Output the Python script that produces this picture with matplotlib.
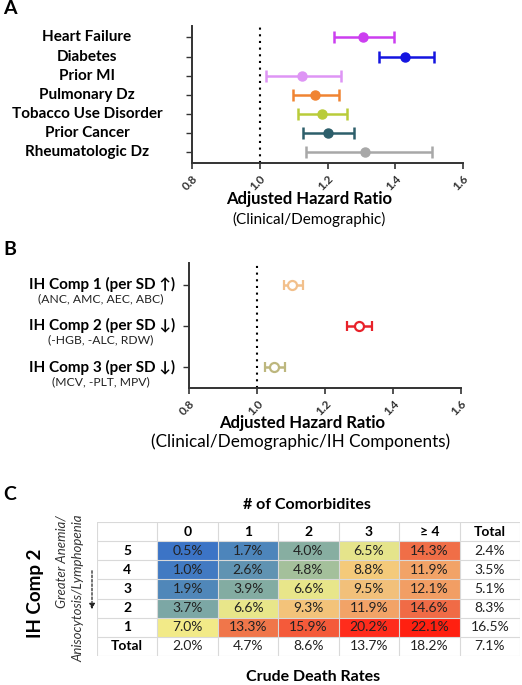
"""
Forest plots of adjusted hazard ratios (A, B) and crude death-rate table (C).
"""

import numpy as np
import matplotlib
matplotlib.use("Agg")
import matplotlib.pyplot as plt
from matplotlib.colors import LinearSegmentedColormap, Normalize
from matplotlib.transforms import blended_transform_factory

plt.rcParams["font.family"] = ["Lato", "DejaVu Sans"]

W, H = 522, 685

# ─── Data ─────────────────────────────────────────────────────────────────────

a_labels = ["Heart Failure", "Diabetes", "Prior MI", "Pulmonary Dz",
            "Tobacco Use Disorder", "Prior Cancer", "Rheumatologic Dz"]
a_hr     = [1.305, 1.430, 1.124, 1.164, 1.184, 1.200, 1.310]
a_lo     = [1.219, 1.352, 1.017, 1.098, 1.114, 1.127, 1.137]
a_hi     = [1.397, 1.514, 1.240, 1.234, 1.259, 1.278, 1.508]
a_colors = ["#CC3EF0", "#1414E0", "#DE95F5", "#F08432",
            "#B9CC3A", "#2D5F6B", "#A8A8A8"]

b_labels = ["IH Comp 1 (per SD \u2191)", "IH Comp 2 (per SD \u2193)",
            "IH Comp 3 (per SD \u2193)"]
b_sub    = ["(ANC, AMC, AEC, ABC)", "(-HGB, -ALC, RDW)", "(MCV, -PLT, MPV)"]
b_hr     = [1.104, 1.300, 1.049]
b_lo     = [1.078, 1.266, 1.024]
b_hi     = [1.136, 1.337, 1.082]
b_colors = ["#F2C08C", "#E8222A", "#BDB77E"]

x_ticks = [0.8, 1.0, 1.2, 1.4, 1.6]

c_cols   = ["0", "1", "2", "3", "\u2265 4"]
c_rows   = ["5", "4", "3", "2", "1"]
c_rates  = np.array([
    [0.5, 1.7, 4.0, 6.5, 14.3],
    [1.0, 2.6, 4.8, 8.8, 11.9],
    [1.9, 3.9, 6.6, 9.5, 12.1],
    [3.7, 6.6, 9.3, 11.9, 14.6],
    [7.0, 13.3, 15.9, 20.2, 22.1],
])
c_row_total = [2.4, 3.5, 5.1, 8.3, 16.5]
c_col_total = [2.0, 4.7, 8.6, 13.7, 18.2]
c_all_total = 7.1


def box(left, top, right, bottom):
    """Pixel box (from top-left) -> figure fraction rect."""
    return [left / W, 1 - bottom / H, (right - left) / W, (bottom - top) / H]


def fx(px):
    return px / W


def fy(py):
    return 1 - py / H


fig = plt.figure(figsize=(W / 100, H / 100), dpi=100)


def style_forest(ax):
    for s in ("top", "right"):
        ax.spines[s].set_visible(False)
    for s in ("left", "bottom"):
        ax.spines[s].set_color("#333333")
        ax.spines[s].set_linewidth(1.4)
    ax.set_xlim(0.8, 1.6)
    ax.set_xticks(x_ticks)
    ax.set_xticklabels([f"{t:.1f}" for t in x_ticks], rotation=45,
                       ha="right", va="top", rotation_mode="anchor",
                       fontsize=8.5, fontweight="bold", color="#333333")
    ax.tick_params(axis="x", length=4, width=1.2, color="#333333", pad=3)
    ax.tick_params(axis="y", length=4, width=1.0, color="#333333")
    ax.axvline(1.0, color="black", lw=1.5, ls=(0, (1, 2.2)), zorder=1)


# ─── Panel A ──────────────────────────────────────────────────────────────────

axA = fig.add_axes(box(192, 26, 463, 163))
style_forest(axA)
ya = np.arange(len(a_labels))
for i in range(len(a_labels)):
    axA.errorbar(a_hr[i], ya[i],
                 xerr=[[a_hr[i] - a_lo[i]], [a_hi[i] - a_hr[i]]],
                 fmt="o", color=a_colors[i], ms=6.5, elinewidth=1.8,
                 capsize=4, capthick=1.8, zorder=3)
axA.set_ylim(len(a_labels) - 0.45, -0.6)
axA.set_yticks(ya)
axA.set_yticklabels([])
tA = blended_transform_factory(fig.transFigure, axA.transData)
for i, lab in enumerate(a_labels):
    axA.text(fx(87), ya[i], lab, transform=tA, ha="center", va="center",
             fontsize=11, fontweight="bold", color="black")

fig.text(fx(309), fy(199), "Adjusted Hazard Ratio", ha="center", va="center",
         fontsize=12, fontweight="bold")
fig.text(fx(309), fy(219), "(Clinical/Demographic)", ha="center", va="center",
         fontsize=11)

# ─── Panel B ──────────────────────────────────────────────────────────────────

axB = fig.add_axes(box(189, 263, 461, 388))
style_forest(axB)
yb = np.arange(len(b_labels))
for i in range(len(b_labels)):
    axB.errorbar(b_hr[i], yb[i],
                 xerr=[[b_hr[i] - b_lo[i]], [b_hi[i] - b_hr[i]]],
                 fmt="o", color=b_colors[i], mfc="white", mec=b_colors[i],
                 mew=1.6, ms=6.5, elinewidth=1.8, capsize=3.5,
                 capthick=1.8, zorder=3)
axB.set_ylim(len(b_labels) - 0.5, -0.52)
axB.set_yticks(yb)
axB.set_yticklabels([])
tB = blended_transform_factory(fig.transFigure, axB.transData)
for i in range(len(b_labels)):
    axB.text(fx(102), yb[i], b_labels[i], transform=tB, ha="center",
             va="center", fontsize=11, fontweight="bold")
    axB.text(fx(101), yb[i] + 0.34, b_sub[i], transform=tB, ha="center",
             va="center", fontsize=8.7, color="#222222")

fig.text(fx(302), fy(423), "Adjusted Hazard Ratio", ha="center", va="center",
         fontsize=12, fontweight="bold")
fig.text(fx(301), fy(442), "(Clinical/Demographic/IH Components)",
         ha="center", va="center", fontsize=12.3)

# ─── Panel C ──────────────────────────────────────────────────────────────────

axC = fig.add_axes(box(97, 522, 520, 656))
n_r, n_c = c_rates.shape
axC.set_xlim(0, n_c + 2)
axC.set_ylim(n_r + 2, 0)
axC.axis("off")

vmin, vmax = c_rates.min(), c_rates.max()
anchors = [(0.5, "#3C74C6"), (2.0, "#5289B8"), (3.8, "#80AAA3"),
           (4.8, "#A6C29A"), (6.6, "#E8E68A"), (7.0, "#F2EA88"),
           (8.8, "#F4CA7A"), (9.5, "#F2C07A"), (12.0, "#F2A266"),
           (13.3, "#F0764A"), (14.6, "#F06C46"), (15.9, "#F45A3A"),
           (20.2, "#FF2C1C"), (22.1, "#FF2010")]
cmap = LinearSegmentedColormap.from_list(
    "rates", [((v - vmin) / (vmax - vmin), c) for v, c in anchors])
axC.pcolormesh(np.arange(1, n_c + 2), np.arange(1, n_r + 2), c_rates,
               cmap=cmap, norm=Normalize(vmin, vmax), shading="flat")

grid_c = "#D9D9D9"
for x in range(n_c + 3):
    axC.plot([x, x], [0, n_r + 2], color=grid_c, lw=0.8, zorder=2)
for y in range(n_r + 3):
    axC.plot([0, n_c + 2], [y, y], color=grid_c, lw=0.8, zorder=2)

fs = 10
for j, lab in enumerate(c_cols + ["Total"]):
    axC.text(j + 1.5, 0.5, lab, ha="center", va="center", fontsize=fs,
             fontweight="bold")
for i, lab in enumerate(c_rows + ["Total"]):
    axC.text(0.5, i + 1.5, lab, ha="center", va="center", fontsize=fs,
             fontweight="bold")
for i in range(n_r):
    for j in range(n_c):
        axC.text(j + 1.5, i + 1.5, f"{c_rates[i, j]:.1f}%", ha="center",
                 va="center", fontsize=fs, color="#222222")
    axC.text(n_c + 1.5, i + 1.5, f"{c_row_total[i]:.1f}%", ha="center",
             va="center", fontsize=fs, color="#222222")
for j in range(n_c):
    axC.text(j + 1.5, n_r + 1.5, f"{c_col_total[j]:.1f}%", ha="center",
             va="center", fontsize=fs, color="#222222")
axC.text(n_c + 1.5, n_r + 1.5, f"{c_all_total:.1f}%", ha="center",
         va="center", fontsize=fs, color="#222222")

fig.text(fx(307), fy(505), "# of Comorbidites", ha="center", va="center",
         fontsize=11.5, fontweight="bold")
fig.text(fx(313), fy(677), "Crude Death Rates", ha="center", va="center",
         fontsize=11.5, fontweight="bold")
fig.text(fx(36), fy(593), "IH Comp 2", rotation=90, ha="center",
         va="center", fontsize=13.5, fontweight="bold")
fig.text(fx(62), fy(515), "Greater Anemia/", rotation=90, ha="right",
         va="center", rotation_mode="anchor", fontsize=9.5, style="italic",
         color="#333333")
fig.text(fx(78), fy(515), "Anisocytosis/Lymphopenia", rotation=90,
         ha="right", va="center", rotation_mode="anchor", fontsize=9.5,
         style="italic", color="#333333")
fig.add_artist(matplotlib.patches.FancyArrowPatch(
    (fx(92), fy(568)), (fx(92), fy(612)), transform=fig.transFigure,
    arrowstyle="-|>", mutation_scale=8, lw=0.9, ls=(0, (2, 1.5)),
    color="#222222"))

# ─── Panel letters ────────────────────────────────────────────────────────────

for letter, py in (("A", 9), ("B", 249), ("C", 494)):
    fig.text(fx(3), fy(py), letter, ha="left", va="center", fontsize=14,
             fontweight="bold")

fig.savefig("out.png", dpi=100)
